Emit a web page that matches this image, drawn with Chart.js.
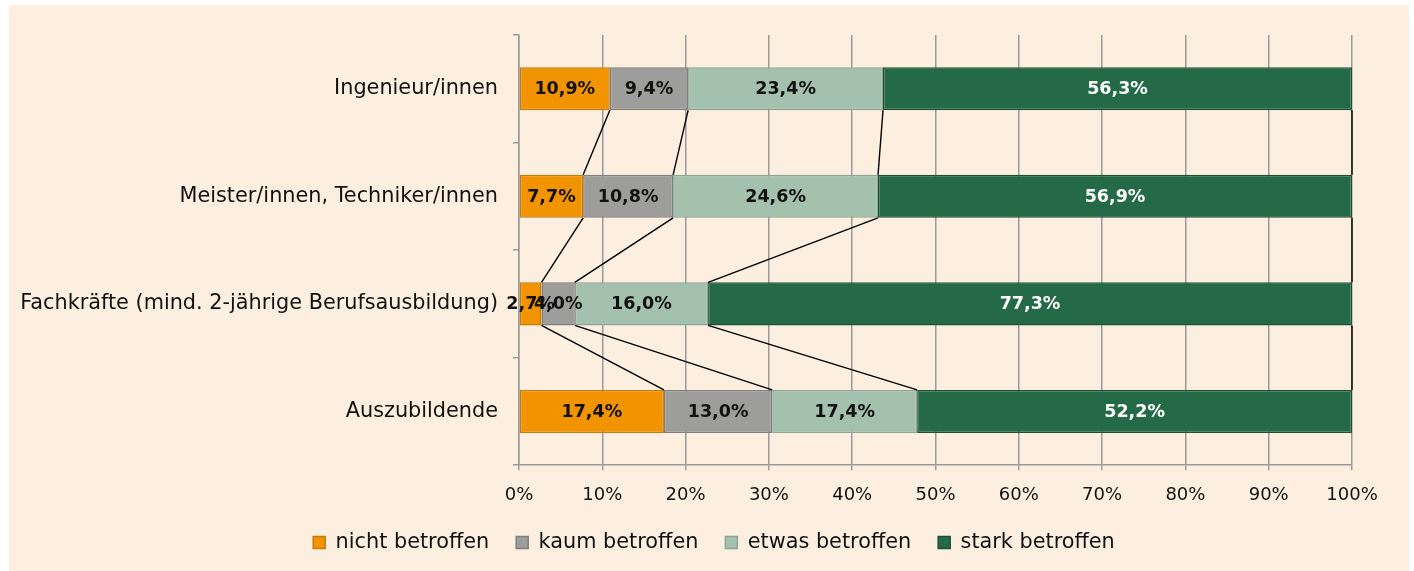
<!DOCTYPE html>
<html>
<head>
<meta charset="utf-8">
<script src="https://cdn.jsdelivr.net/npm/chart.js@4.4.1/dist/chart.umd.min.js"></script>
<style>
  html, body { margin: 0; padding: 0; background: #ffffff; }
  #wrap { position: absolute; left: 0; top: 0; width: 1414px; height: 571px; }
</style>
</head>
<body>
<div id="wrap"><canvas id="c" width="1414" height="571"></canvas></div>
<script>
const categories = [
  'Ingenieur/innen',
  'Meister/innen, Techniker/innen',
  'Fachkräfte (mind. 2-jährige Berufsausbildung)',
  'Auszubildende'
];
const seriesNames = ['nicht betroffen', 'kaum betroffen', 'etwas betroffen', 'stark betroffen'];
const nichtBetroffen = [10.9, 7.7, 2.7, 17.4];
const kaumBetroffen  = [9.4, 10.8, 4.0, 13.0];
const etwasBetroffen = [23.4, 24.6, 16.0, 17.4];
const starkBetroffen = [56.3, 56.9, 77.3, 52.2];
const xTicks = [0, 10, 20, 30, 40, 50, 60, 70, 80, 90, 100];

const fillColors   = ['#F29400', '#9D9D9C', '#A4C1AD', '#256A47'];
const borderColors = ['#C77A0A', '#7E7E7E', '#8AA595', '#1C4F35'];
const labelColors  = ['#111111', '#111111', '#111111', '#FFFFFF'];
const FONT = "'DejaVu Sans', sans-serif";

const bgPlugin = {
  id: 'bg',
  beforeDraw(chart) {
    const ctx = chart.ctx;
    ctx.save();
    ctx.fillStyle = '#FDEFDF';
    ctx.fillRect(9, 5, 1400, 566);
    ctx.restore();
  }
};

const legendShiftPlugin = {
  id: 'legendShift',
  afterLayout(chart) {
    const l = chart.legend;
    if (l) { l.left += 38; l.right += 38; }
  }
};

const seriesLinesPlugin = {
  id: 'seriesLines',
  afterDatasetsDraw(chart) {
    const ctx = chart.ctx;
    ctx.save();
    ctx.strokeStyle = '#000000';
    ctx.lineWidth = 1.4;
    const n = chart.data.labels.length;
    chart.data.datasets.forEach((ds, k) => {
      const meta = chart.getDatasetMeta(k);
      for (let i = 0; i < n - 1; i++) {
        const a = meta.data[i], b = meta.data[i + 1];
        ctx.beginPath();
        ctx.moveTo(a.x, a.y + a.height / 2);
        ctx.lineTo(b.x, b.y - b.height / 2);
        ctx.stroke();
      }
    });
    ctx.restore();
  }
};

const valueLabelsPlugin = {
  id: 'valueLabels',
  afterDatasetsDraw(chart) {
    const ctx = chart.ctx;
    ctx.save();
    ctx.font = "bold 17.5px " + FONT;
    ctx.textAlign = 'center';
    ctx.textBaseline = 'middle';
    chart.data.datasets.forEach((ds, k) => {
      const meta = chart.getDatasetMeta(k);
      meta.data.forEach((el, i) => {
        const v = ds.data[i];
        ctx.fillStyle = labelColors[k];
        const cx = (el.x + el.base) / 2;
        ctx.fillText(v.toFixed(1).replace('.', ',') + '%', cx, el.y + 1);
      });
    });
    ctx.restore();
  }
};

const seriesData = [nichtBetroffen, kaumBetroffen, etwasBetroffen, starkBetroffen];

new Chart(document.getElementById('c'), {
  type: 'bar',
  data: {
    labels: categories,
    datasets: seriesData.map((d, k) => ({
      label: seriesNames[k],
      data: d,
      backgroundColor: fillColors[k],
      borderColor: borderColors[k],
      borderWidth: 1.5,
      borderSkipped: false,
      barPercentage: 0.8,
      categoryPercentage: 0.5
    }))
  },
  options: {
    indexAxis: 'y',
    responsive: false,
    animation: false,
    devicePixelRatio: 1,
    layout: { padding: { left: 0, right: 62, top: 35, bottom: 8 } },
    scales: {
      x: {
        stacked: true,
        min: 0,
        max: 100,
        afterFit(scale) { scale.height = 40; },
        afterBuildTicks(scale) { scale.ticks = xTicks.map(v => ({ value: v })); },
        ticks: {
          callback: v => v + '%',
          color: '#111111',
          font: { family: FONT, size: 18 },
          padding: 14,
          maxRotation: 0
        },
        grid: { color: '#9A9A9A', lineWidth: 1.5, tickLength: 5, drawTicks: true },
        border: { color: '#9A9A9A', width: 1.5 }
      },
      y: {
        stacked: true,
        afterFit(scale) { scale.width = 519; },
        ticks: {
          color: '#111111',
          font: { family: FONT, size: 20.8 },
          padding: 15
        },
        grid: { offset: true, drawOnChartArea: false, drawTicks: true, tickLength: 6, color: '#9A9A9A', lineWidth: 1.5 },
        border: { color: '#9A9A9A', width: 1.5 }
      }
    },
    plugins: {
      legend: {
        position: 'bottom',
        labels: {
          boxWidth: 12,
          boxHeight: 12,
          padding: 27,
          color: '#111111',
          font: { family: FONT, size: 20.8 }
        }
      },
      tooltip: { enabled: false }
    }
  },
  plugins: [bgPlugin, legendShiftPlugin, seriesLinesPlugin, valueLabelsPlugin]
});
</script>
</body>
</html>
